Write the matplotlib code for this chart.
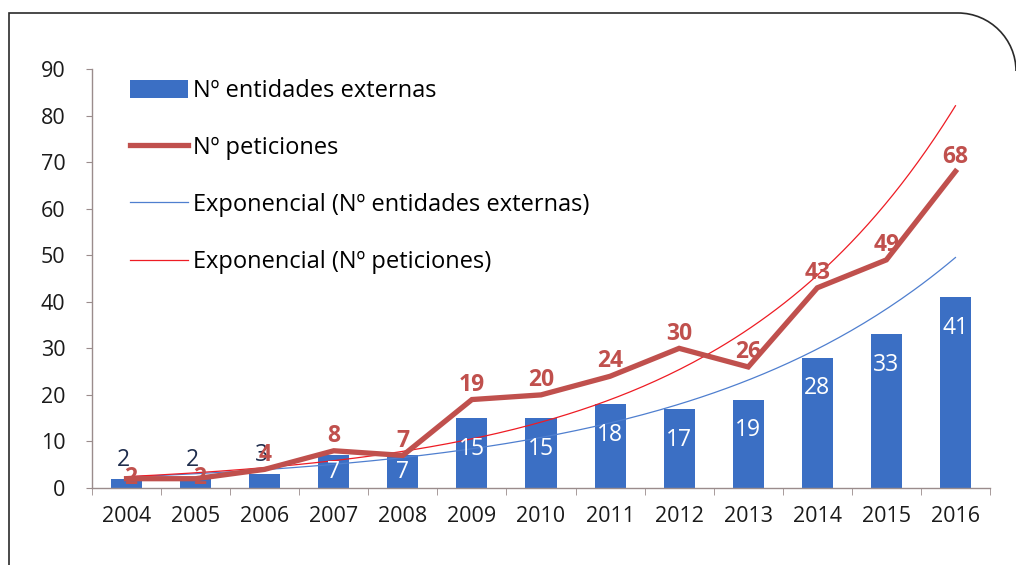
import numpy as np
import matplotlib
matplotlib.use("Agg")
import matplotlib.pyplot as plt
from matplotlib.path import Path
from matplotlib.patches import PathPatch

plt.rcParams['font.family'] = ['Open Sans', 'DejaVu Sans']

# data
years = ["2004", "2005", "2006", "2007", "2008", "2009", "2010",
         "2011", "2012", "2013", "2014", "2015", "2016"]
entidades = [2, 2, 3, 7, 7, 15, 15, 18, 17, 19, 28, 33, 41]
peticiones = [2, 2, 4, 8, 7, 19, 20, 24, 30, 26, 43, 49, 68]

BLUE = "#3b6fc4"
RED = "#c0504d"
AXIS = "#9a8c8c"
FS = 15.5

W, H = 1016, 565
fig = plt.figure(figsize=(W / 100, H / 100), dpi=100)
ax = fig.add_axes([92 / W, 1 - 488 / H, (990 - 92) / W, (488 - 69) / H])

x = np.arange(len(years))
bars = ax.bar(x, entidades, width=0.45, color=BLUE, zorder=2, label="Nº entidades externas")
line, = ax.plot(x, peticiones, color=RED, lw=3.8, solid_joinstyle="miter", zorder=4,
                label="Nº peticiones")

# exponential trendlines (least squares on log values, like Excel)
xs = np.linspace(0, len(years) - 1, 200)
b1, a1 = np.polyfit(x, np.log(entidades), 1)
b2, a2 = np.polyfit(x, np.log(peticiones), 1)
t1, = ax.plot(xs, np.exp(a1 + b1 * xs), color="#4f7fcf", lw=0.9, zorder=3,
              label="Exponencial (Nº entidades externas)")
t2, = ax.plot(xs, np.exp(a2 + b2 * xs), color="#ee1c24", lw=0.9, zorder=3,
              label="Exponencial (Nº peticiones)")

# bar value labels
for xi, v in zip(x, entidades):
    if v < 5:
        ax.annotate(str(v), (xi, v), xytext=(-2, 5), textcoords="offset points",
                    ha="center", va="bottom", fontsize=16.5, color="#1f2d4d", zorder=6)
    else:
        ax.text(xi, v - min(6.6, v / 2), str(v), ha="center", va="center",
                fontsize=16.5, color="white", zorder=6)

# line value labels
for xi, v in zip(x, peticiones):
    dy = -8 if v < 4 else 2
    dx = 3 if v < 4 else 0
    ax.annotate(str(v), (xi, v), xytext=(dx, dy), textcoords="offset points",
                ha="center", va="bottom", fontsize=16.5, fontweight="bold",
                color=RED, zorder=6)

ax.set_xlim(-0.5, len(years) - 0.5)
ax.set_ylim(0, 90)
ax.set_yticks(range(0, 91, 10))
ax.set_xticks(x)
ax.set_xticklabels(years)
ax.set_xticks(np.arange(-0.5, len(years), 1), minor=True)

for s in ["top", "right"]:
    ax.spines[s].set_visible(False)
for s in ["left", "bottom"]:
    ax.spines[s].set_color(AXIS)
    ax.spines[s].set_linewidth(1)

ax.tick_params(axis="x", which="major", length=0, pad=13, labelsize=FS, labelcolor="#1a1a1a")
ax.tick_params(axis="x", which="minor", length=5, color=AXIS, direction="out")
ax.tick_params(axis="y", length=4, color=AXIS, pad=15, labelsize=FS, labelcolor="#1a1a1a")

leg = ax.legend([bars, line, t1, t2],
                [bars.get_label(), line.get_label(), t1.get_label(), t2.get_label()],
                loc="upper left", bbox_to_anchor=(130 / W, 1 - 79 / H),
                bbox_transform=fig.transFigure, frameon=False, fontsize=17,
                handlelength=2.45, handleheight=0.8, handletextpad=0.22,
                labelspacing=1.4, borderaxespad=0, borderpad=0)
leg.set_zorder(7)

# frame with rounded top-right corner
def fp(px, py):
    return (px / W, 1 - py / H)

R = 58
verts = [fp(9, 575), fp(9, 13), fp(958, 13),
         fp(958 + R * 0.55, 13), fp(958 + R, 13 + R * 0.45), fp(958 + R, 13 + R)]
codes = [Path.MOVETO, Path.LINETO, Path.LINETO,
         Path.CURVE4, Path.CURVE4, Path.CURVE4]
fig.add_artist(PathPatch(Path(verts, codes), fill=False, edgecolor="#2a2a2a",
                         lw=1.2, transform=fig.transFigure, clip_on=False))

fig.savefig("out.png", dpi=100)
